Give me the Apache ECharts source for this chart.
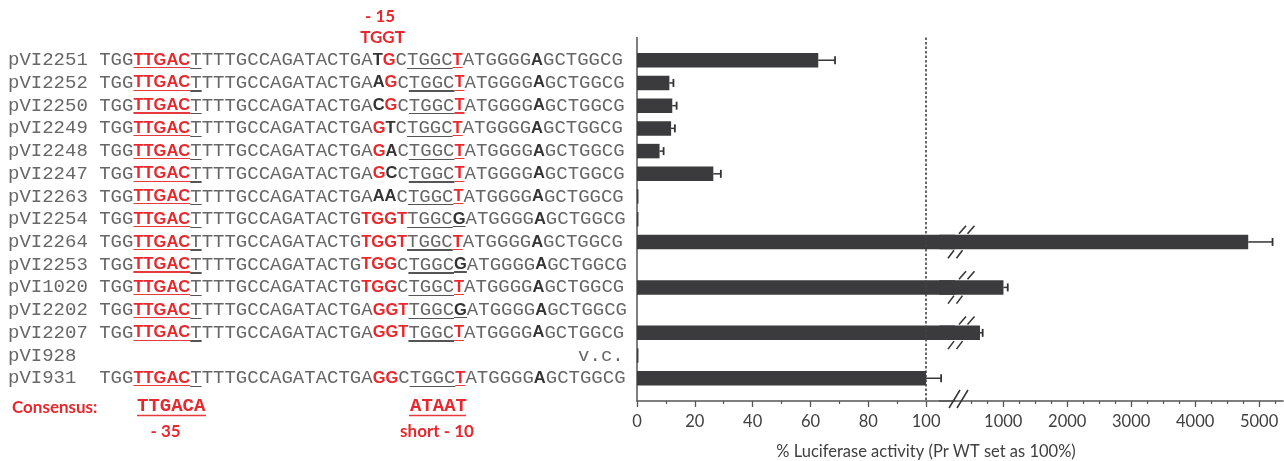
<!DOCTYPE html>
<html><head><meta charset="utf-8">
<script src="https://cdn.jsdelivr.net/npm/echarts@6/dist/echarts.min.js"></script>
<style>html,body{margin:0;padding:0;background:#fff}#c{width:1284px;height:461px}</style>
</head><body><div id="c"></div><script>
// ---------------- data ----------------
const labels = ['pVI2251','pVI2252','pVI2250','pVI2249','pVI2248','pVI2247','pVI2263','pVI2254','pVI2264','pVI2253','pVI1020','pVI2202','pVI2207','pVI928','pVI931'];
const seqPrefix = 'TGGTTGACTTTTGCCAGATACTG';
const seqSuffix = 'ATGGGGAGCTGGCG';
const seqMiddles = ['ATGCTGGCT','AAGCTGGCT','ACGCTGGCT','AGTCTGGCT','AGACTGGCT','AGCCTGGCT','AAACTGGCT','TGGTTGGCG','TGGTTGGCT','TGGCTGGCG','TGGCTGGCT','AGGTTGGCG','AGGTTGGCT',null,'AGGCTGGCT'];
const styleMiddles = ['nbrnnnnnr','nbrnnnnnr','nbrnnnnnr','nrbnnnnnr','nrbnnnnnr','nrbnnnnnr','nbbnnnnnr','rrrrnnnnb','rrrrnnnnr','rrrnnnnnb','rrrnnnnnr','nrrrnnnnb','nrrrnnnnr',null,'nrrnnnnnr'];
const minus10Underline = ['ggggr','ggggr','ggggr','ggggr','ggggr','ggggr','ggggr','ggggg','ggggr','ggggg','ggggr','ggggg','ggggr',null,'ggggr'];
const vcText = 'v.c.';
const values = [62.7, 11.2, 12.2, 11.8, 7.8, 26.4, 0.5, 0.5, 4830, 0, 1003, 0, 636, 0.5, 100];
const errors = [5.8, 1.4, 1.5, 1.3, 1.4, 2.6, 0, 0, 380, 0, 67, 0, 42, 0, 5.2];
const leftTicks = [0, 20, 40, 60, 80, 100];
const leftMinorTicks = [10, 30, 50, 70, 90];
const rightTicks = [1000, 2000, 3000, 4000, 5000];
const rightMinorTicks = [500, 750, 1250, 1500, 1750, 2250, 2500, 2750, 3250, 3500, 3750, 4250, 4500, 4750, 5250];
const leftMax = 110, rightMax = 5375, refLine = 100;
const axisTitle = '% Luciferase activity (Pr WT set as 100%)';

// ---------------- styling ----------------
const RED = '#e8282d', GRAY = '#676767', DARK = '#333333', AX = '#555555', BAR = '#3b3b3d';
function ul(c) {
  const t = 'rgba(255,255,255,0)';
  return {type: 'linear', x: 0, y: 0, x2: 0, y2: 1, colorStops: [
    {offset: 0, color: t}, {offset: 0.895, color: t}, {offset: 0.895, color: c},
    {offset: 0.965, color: c}, {offset: 0.965, color: t}, {offset: 1, color: t}]};
}
const baseStyles = {
  n: {fontFamily: 'Liberation Mono', fontSize: 19, color: GRAY, lineHeight: 24},
  r: {fontFamily: 'Liberation Sans', fontWeight: 'bold', fontSize: 16.5, color: RED, lineHeight: 24},
  b: {fontFamily: 'Liberation Sans', fontWeight: 'bold', fontSize: 16.5, color: DARK, lineHeight: 24}
};
const ulColors = {r: '#e8393d', g: '#555555'};
const rich = {};
Object.keys(baseStyles).forEach(k => {
  rich[k] = Object.assign({}, baseStyles[k]);
  Object.keys(ulColors).forEach(u => {
    rich[k + u] = Object.assign({}, baseStyles[k], {backgroundColor: ul(ulColors[u])});
  });
});

function rowText(i) {
  let seq, sm, um;
  if (seqMiddles[i] === null) {
    seq = ' '.repeat(42) + vcText;
    sm = 'n'.repeat(46);
    um = ' '.repeat(46);
  } else {
    seq = seqPrefix + seqMiddles[i] + seqSuffix;
    sm = 'nnnrrrrr' + 'n'.repeat(15) + styleMiddles[i] + 'nnnnnnbnnnnnnn';
    um = '   rrrrrg' + ' '.repeat(18) + minus10Underline[i] + ' '.repeat(14);
  }
  const text = labels[i].padEnd(8, ' ') + seq;
  sm = 'n'.repeat(8) + sm;
  um = ' '.repeat(8) + um;
  let out = '', cur = null, buf = '';
  for (let j = 0; j < text.length; j++) {
    const key = sm[j] + (um[j] === ' ' ? '' : um[j]);
    if (key !== cur) { if (buf) out += '{' + cur + '|' + buf + '}'; cur = key; buf = ''; }
    buf += text[j];
  }
  if (buf) out += '{' + cur + '|' + buf + '}';
  return out;
}

const cats = ['_top'].concat(labels, ['_bottom']);
const rowsRich = [''].concat(labels.map((l, i) => rowText(i)), ['']);

const leftBarData = ['-'].concat(values, ['-']);
const rightBarData = ['-'].concat(values.map(v => v > leftMax ? v : '-'), ['-']);
const leftErr = [], rightErr = [], breaks = [];
values.forEach((v, i) => {
  if (errors[i] > 0) (v > leftMax ? rightErr : leftErr).push([v, i + 1, errors[i]]);
  if (v > leftMax) breaks.push([leftMax, i + 1, 0]);
});
breaks.push([leftMax, cats.length - 1, 1]);

function errRender(params, api) {
  const v = api.value(0), idx = api.value(1), e = api.value(2);
  const p1 = api.coord([v, idx]), p2 = api.coord([v + e, idx]);
  return {type: 'group', children: [
    {type: 'line', shape: {x1: p1[0], y1: p1[1], x2: p2[0], y2: p2[1]}, style: {stroke: '#333', lineWidth: 1.5}},
    {type: 'line', shape: {x1: p2[0], y1: p2[1] - 4, x2: p2[0], y2: p2[1] + 4}, style: {stroke: '#333', lineWidth: 1.8}}
  ]};
}
const BW = 14.5;
function breakRender(params, api) {
  const p = api.coord([api.value(0), api.value(1)]);
  const x0 = p[0], y = p[1], kind = api.value(2);
  const st = {stroke: '#333', lineWidth: 1.5};
  const ch = [];
  if (kind === 0) {
    const h = BW / 2;
    for (let k = 0; k < 2; k++) {
      ch.push({type: 'line', shape: {x1: x0 + 4 + k * 8.5, y1: y - h - 1, x2: x0 + 11 + k * 8.5, y2: y - h - 9}, style: st});
      ch.push({type: 'line', shape: {x1: x0 - 7 + k * 8.5, y1: y + h + 9, x2: x0 - 1 + k * 8.5, y2: y + h + 1}, style: st});
    }
  } else {
    for (let k = 0; k < 2; k++) {
      ch.push({type: 'line', shape: {x1: x0 - 6 + k * 8, y1: y + 7, x2: x0 + 5 + k * 8, y2: y - 11}, style: st});
    }
  }
  return {type: 'group', children: ch};
}

const tickLabel = {fontFamily: 'Lato', fontSize: 16.5, color: '#404040', margin: 12, formatter: v => String(v)};
const option = {
  animation: false,
  grid: [
    {left: 637, top: 37.5, width: 318, height: 363.5, outerBoundsMode: 'none', containLabel: false},
    {left: 939.3, top: 37.5, width: 343.8, height: 363.5, outerBoundsMode: 'none', containLabel: false}
  ],
  xAxis: [
    {gridIndex: 0, type: 'value', position: 'bottom', min: 0, max: leftMax,
      axisLine: {show: true, lineStyle: {color: AX, width: 1.5}},
      axisTick: {show: true, customValues: leftTicks, length: 6, lineStyle: {color: AX, width: 1.3}},
      axisLabel: Object.assign({customValues: leftTicks}, tickLabel), splitLine: {show: false}},
    {gridIndex: 0, type: 'value', position: 'bottom', min: 0, max: leftMax,
      axisLine: {show: false}, axisTick: {show: true, customValues: leftMinorTicks, length: 3, lineStyle: {color: AX, width: 1.2}},
      axisLabel: {show: false}, splitLine: {show: false}},
    {gridIndex: 1, type: 'value', position: 'bottom', min: 0, max: rightMax,
      axisLine: {show: true, lineStyle: {color: AX, width: 1.5}},
      axisTick: {show: true, customValues: rightTicks, length: 6, lineStyle: {color: AX, width: 1.3}},
      axisLabel: Object.assign({customValues: rightTicks}, tickLabel), splitLine: {show: false}},
    {gridIndex: 1, type: 'value', position: 'bottom', min: 0, max: rightMax,
      axisLine: {show: false}, axisTick: {show: true, customValues: rightMinorTicks, length: 3, lineStyle: {color: AX, width: 1.2}},
      axisLabel: {show: false}, splitLine: {show: false}}
  ],
  yAxis: [
    {gridIndex: 0, type: 'category', data: cats, inverse: true, boundaryGap: false,
      axisLine: {show: true, lineStyle: {color: AX, width: 1.5}}, axisTick: {show: false}, splitLine: {show: false},
      axisLabel: {interval: 0, align: 'left', margin: 629, formatter: (v, i) => rowsRich[i], rich: rich}},
    {gridIndex: 1, type: 'category', data: cats, inverse: true, boundaryGap: false, show: false}
  ],
  series: [
    {type: 'bar', xAxisIndex: 0, yAxisIndex: 0, data: leftBarData, barWidth: BW, clip: true,
      itemStyle: {color: BAR}, z: 2,
      markLine: {silent: true, symbol: 'none', label: {show: false},
        lineStyle: {type: [2.5, 2], color: '#444', width: 1.6}, data: [{xAxis: refLine}]}},
    {type: 'bar', xAxisIndex: 2, yAxisIndex: 1, data: rightBarData, barWidth: BW, clip: true,
      itemStyle: {color: BAR}, z: 2},
    {type: 'custom', xAxisIndex: 0, yAxisIndex: 0, data: leftErr, renderItem: errRender, z: 3, encode: {x: 0, y: 1}},
    {type: 'custom', xAxisIndex: 2, yAxisIndex: 1, data: rightErr, renderItem: errRender, z: 3, encode: {x: 0, y: 1}},
    {type: 'custom', xAxisIndex: 0, yAxisIndex: 0, data: breaks, renderItem: breakRender, z: 4, clip: false, encode: {x: 0, y: 1}}
  ],
  graphic: [
    {type: 'text', x: 380, y: 17, style: {text: '- 15', fontFamily: 'Lato', fontWeight: 'bold', fontSize: 17, fill: RED, align: 'center', verticalAlign: 'middle', textAlign: 'center', textVerticalAlign: 'middle'}},
    {type: 'text', x: 382.5, y: 38, style: {text: 'TGGT', fontFamily: 'Lato', fontWeight: 'bold', fontSize: 17, fill: RED, align: 'center', verticalAlign: 'middle', textAlign: 'center', textVerticalAlign: 'middle'}},
    {type: 'text', x: 12, y: 408, style: {text: 'Consensus:', fontFamily: 'Lato', fontWeight: 'bold', fontSize: 17, fill: RED, align: 'left', verticalAlign: 'middle', textAlign: 'left', textVerticalAlign: 'middle'}},
    {type: 'text', x: 137, y: 406, style: {text: 'TTGACA', fontFamily: 'Liberation Mono', fontWeight: 'bold', fontSize: 19, fill: RED, align: 'left', verticalAlign: 'middle', textAlign: 'left', textVerticalAlign: 'middle'}},
    {type: 'line', shape: {x1: 137, y1: 415.5, x2: 206, y2: 415.5}, style: {stroke: '#e8393d', lineWidth: 1.7}},
    {type: 'text', x: 165.5, y: 431.5, style: {text: '- 35', fontFamily: 'Lato', fontWeight: 'bold', fontSize: 17, fill: RED, align: 'center', verticalAlign: 'middle', textAlign: 'center', textVerticalAlign: 'middle'}},
    {type: 'text', x: 410, y: 406, style: {text: 'ATAAT', fontFamily: 'Liberation Mono', fontWeight: 'bold', fontSize: 19, fill: RED, align: 'left', verticalAlign: 'middle', textAlign: 'left', textVerticalAlign: 'middle'}},
    {type: 'line', shape: {x1: 409, y1: 415.5, x2: 466, y2: 415.5}, style: {stroke: '#e8393d', lineWidth: 1.7}},
    {type: 'text', x: 437, y: 431.5, style: {text: 'short - 10', fontFamily: 'Lato', fontWeight: 'bold', fontSize: 17, fill: RED, align: 'center', verticalAlign: 'middle', textAlign: 'center', textVerticalAlign: 'middle'}},
    {type: 'text', x: 926, y: 452, style: {text: axisTitle, fontFamily: 'Lato', fontSize: 16.5, fill: '#404040', align: 'center', verticalAlign: 'middle', textAlign: 'center', textVerticalAlign: 'middle'}}
  ]
};
const chart = echarts.init(document.getElementById('c'));
chart.setOption(option);
</script></body></html>
